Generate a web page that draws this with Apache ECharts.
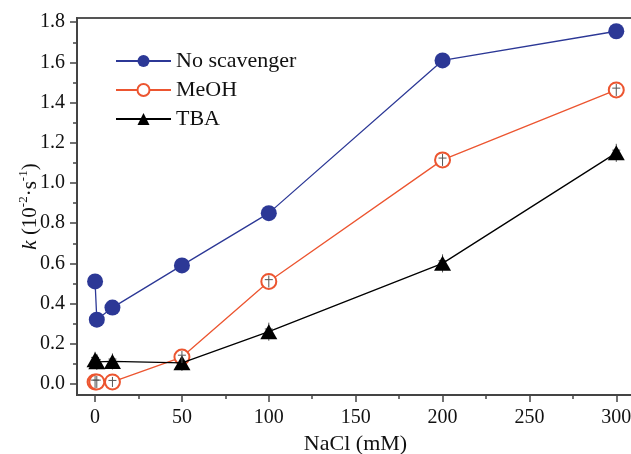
<!DOCTYPE html>
<html><head><meta charset="utf-8">
<script src="https://cdn.jsdelivr.net/npm/echarts@6/dist/echarts.min.js"></script>
<style>html,body{margin:0;padding:0;background:#fff}#c{width:631px;height:454px}</style>
</head><body><div id="c"></div>
<script>
const nacl = [0, 1, 10, 50, 100, 200, 300];
const noScavenger = [0.51, 0.32, 0.38, 0.59, 0.85, 1.61, 1.755];
const meoh = [0.01, 0.01, 0.01, 0.134, 0.51, 1.115, 1.463];
const tba = [0.12, 0.11, 0.112, 0.105, 0.26, 0.60, 1.15];
const meohErr = [0.03, 0.03, 0.025, 0.03, 0.03, 0.03, 0.03];
const tbaErr = [0.04, 0.04, 0.04, 0.04, 0.045, 0.045, 0.045];
const xTicks = [0, 50, 100, 150, 200, 250, 300];
const xMinorTicks = [25, 75, 125, 175, 225, 275];
const yTicks = [0, 0.2, 0.4, 0.6, 0.8, 1.0, 1.2, 1.4, 1.6, 1.8];
const yMinorTicks = [0.1, 0.3, 0.5, 0.7, 0.9, 1.1, 1.3, 1.5, 1.7];
const seriesNames = ['No scavenger', 'MeOH', 'TBA'];

const FONT = 'Liberation Serif';
const AX = '#444';
const X_MIN = -10.4, X_MAX = 310.2, Y_MIN = -0.055, Y_MAX = 1.821;

const chart = echarts.init(document.getElementById('c'), null, {renderer: 'canvas'});

function pairs(xs, ys) { return xs.map((x, i) => [x, ys[i]]); }
function errData(xs, ys, es) { return xs.map((x, i) => [x, ys[i], es[i]]); }
function renderErr(params, api) {
  const x = api.value(0), y = api.value(1), e = api.value(2);
  const top = api.coord([x, y + e]);
  const mid = api.coord([x, y + e * 0.3]);
  const bot = api.coord([x, y - e]);
  const hw = 4;
  const st = {stroke: '#555', lineWidth: 1};
  return {type: 'group', children: [
    {type: 'line', shape: {x1: top[0], y1: top[1], x2: bot[0], y2: bot[1]}, style: st},
    {type: 'line', shape: {x1: mid[0] - hw, y1: mid[1], x2: mid[0] + hw, y2: mid[1]}, style: st}
  ]};
}

const baseX = {type: 'value', min: X_MIN, max: X_MAX, position: 'bottom', splitLine: {show: false}};
const baseY = {type: 'value', min: Y_MIN, max: Y_MAX, position: 'left', splitLine: {show: false}};

chart.setOption({
  animation: false,
  backgroundColor: '#fff',
  grid: {left: 77, right: -3, top: 18, bottom: 59, show: true, borderColor: '#555', borderWidth: 2,
    containLabel: false, outerBoundsMode: 'none'},
  legend: {
    data: seriesNames, orient: 'vertical', left: 110, top: 45,
    itemWidth: 55, itemHeight: 15, itemGap: 7,
    textStyle: {fontFamily: FONT, fontSize: 22, color: '#111'}
  },
  xAxis: [
    Object.assign({}, baseX, {
      axisLine: {onZero: false, lineStyle: {color: AX, width: 2}},
      axisTick: {customValues: xTicks, length: 7, lineStyle: {color: AX, width: 1.5}},
      axisLabel: {customValues: xTicks, fontFamily: FONT, fontSize: 20, color: '#111', margin: 13},
      name: 'NaCl (mM)', nameLocation: 'middle', nameGap: 35,
      nameTextStyle: {fontFamily: FONT, fontSize: 22, color: '#111'}
    }),
    Object.assign({}, baseX, {
      axisLine: {show: false, onZero: false},
      axisTick: {customValues: xMinorTicks, length: 4, lineStyle: {color: AX, width: 1.5}},
      axisLabel: {show: false}
    })
  ],
  yAxis: [
    Object.assign({}, baseY, {
      axisLine: {onZero: false, lineStyle: {color: AX, width: 2}},
      axisTick: {customValues: yTicks, length: 7, lineStyle: {color: AX, width: 1.5}},
      axisLabel: {customValues: yTicks, formatter: v => v.toFixed(1), fontFamily: FONT, fontSize: 20, color: '#111', margin: 12},
      name: '{i|k} (10{s|-2}·s{s|-1})', nameLocation: 'middle', nameGap: 34, nameMoveOverlap: false,
      nameTextStyle: {fontFamily: FONT, fontSize: 21, color: '#111', lineHeight: 26,
        rich: {
          i: {fontFamily: FONT, fontSize: 21, fontStyle: 'italic', color: '#111', lineHeight: 26},
          s: {fontFamily: FONT, fontSize: 13, color: '#111', verticalAlign: 'top', lineHeight: 26}
        }}
    }),
    Object.assign({}, baseY, {
      axisLine: {show: false, onZero: false},
      axisTick: {customValues: yMinorTicks, length: 4, lineStyle: {color: AX, width: 1.5}},
      axisLabel: {show: false}
    })
  ],
  series: [
    {name: seriesNames[0], type: 'line', data: pairs(nacl, noScavenger), symbol: 'circle', symbolSize: 16,
      color: '#2c3896', lineStyle: {width: 1.3, color: '#2c3896'}, z: 3},
    {name: seriesNames[1], type: 'line', data: pairs(nacl, meoh), symbol: 'emptyCircle', symbolSize: 15,
      color: '#ec5530', lineStyle: {width: 1.3, color: '#ec5530'}, itemStyle: {borderWidth: 1.3}, z: 3},
    {name: seriesNames[2], type: 'line', data: pairs(nacl, tba), symbol: 'triangle', symbolSize: [17, 15],
      color: '#000', lineStyle: {width: 1.3, color: '#000'}, z: 4},
    {type: 'custom', renderItem: renderErr, data: errData(nacl, meoh, meohErr), z: 5, silent: true},
    {type: 'custom', renderItem: renderErr, data: errData(nacl, tba, tbaErr), z: 2, silent: true}
  ]
});
</script>
</body></html>
